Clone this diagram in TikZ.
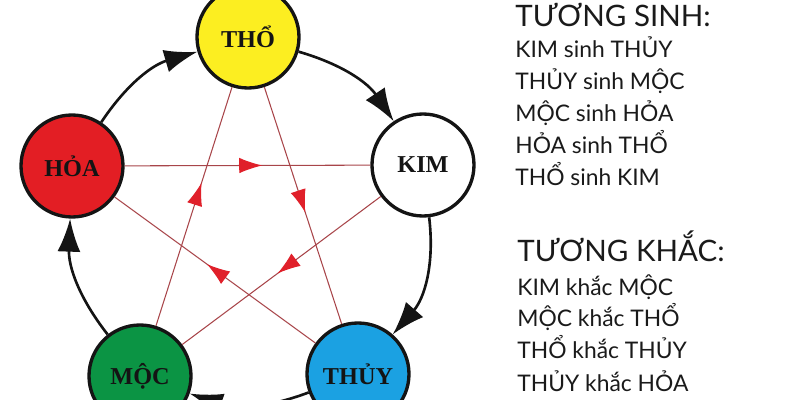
\documentclass[tikz,border=0pt]{standalone}
\usepackage{fontspec}
\setmainfont{Liberation Serif}
\newfontfamily\listfont{Lato}
\usetikzlibrary{arrows.meta,decorations.markings}
\definecolor{ThoYellow}{HTML}{FCEE21}
\definecolor{KimWhite}{HTML}{FFFFFF}
\definecolor{HoaRed}{HTML}{E31E24}
\definecolor{MocGreen}{HTML}{0B9444}
\definecolor{ThuyBlue}{HTML}{1BA1E2}
\definecolor{SinhInk}{HTML}{141414}
\definecolor{KhacRed}{HTML}{E0202A}
\definecolor{KhacLine}{HTML}{A8454A}
\definecolor{ListInk}{HTML}{1A1A1A}

\begin{document}
\begin{tikzpicture}[
  x=0.2mm,
  y=0.2mm,
  >=Latex,
  element/.style={circle,draw=SinhInk,line width=1.9pt,minimum size=20.4mm,
    inner sep=0pt,text=SinhInk,font=\fontsize{13.8}{14}\selectfont\bfseries},
  sinh/.style={-{Latex[length=6.6mm,width=4.6mm]},draw=SinhInk,line width=1.5pt},
  khac/.style={draw=KhacLine,line width=0.6pt,postaction={decorate},
    decoration={markings,mark=at position #1 with
      {\arrow{Latex[length=4.6mm,width=3.1mm,color=KhacRed]}}}},
  heading/.style={anchor=base west,inner sep=0pt,text=ListInk,
    font=\listfont\fontsize{16.8}{18}\selectfont},
  item/.style={anchor=base west,inner sep=0pt,text=ListInk,
    font=\listfont\fontsize{13}{16}\selectfont}
]
  \useasboundingbox (0,0) rectangle (800,400);

  \node[element,fill=ThoYellow] (tho) at (248,363) {THỔ};
  \node[element,fill=KimWhite] (kim) at (423,235) {KIM};
  \node[element,fill=HoaRed] (hoa) at (72,234) {HỎA};
  \node[element,fill=MocGreen] (moc) at (140,24) {MỘC};
  \node[element,fill=ThuyBlue] (thuy) at (358,26) {THỦY};

  \draw[khac=0.56] (hoa) -- (kim);
  \draw[khac=0.6] (moc) -- (tho);
  \draw[khac=0.53] (tho) -- (thuy);
  \draw[khac=0.54] (thuy) -- (hoa);
  \draw[khac=0.52] (kim) -- (moc);

  \draw[sinh] (tho) to[bend left=20] (kim);
  \draw[sinh] (kim) to[bend left=24] (thuy);
  \draw[sinh] (thuy) to[bend left=20] (moc);
  \draw[sinh] (moc) to[bend left=20] (hoa);
  \draw[sinh] (hoa) to[bend left=20] (tho);

  \node[heading] (sinhhead) at (515,373) {TƯƠNG SINH:};
  \foreach \txt [count=\i] in {KIM sinh THỦY,THỦY sinh MỘC,MỘC sinh HỎA,HỎA sinh THỔ,THỔ sinh KIM}
    \node[item] (sinh\i) at (515,374-32*\i) {\txt};

  \node[heading] (khachead) at (517,138) {TƯƠNG KHẮC:};
  \foreach \txt [count=\i] in {KIM khắc MỘC,MỘC khắc THỔ,THỔ khắc THỦY,THỦY khắc HỎA}
    \node[item] (khac\i) at (517,137-32*\i) {\txt};
\end{tikzpicture}
\end{document}
